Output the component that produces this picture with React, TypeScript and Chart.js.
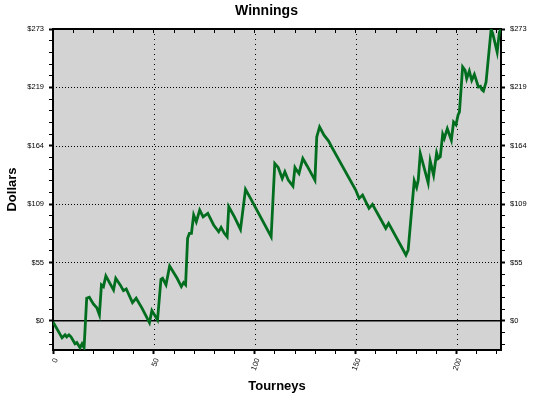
import React, { useEffect, useRef } from "react";
import { Chart, registerables } from "chart.js";

Chart.register(...registerables);

const tourneys = [
  0, 4.5, 6, 6.8, 7.9, 8.9, 10.9, 11.8, 13.4, 14.4,
  15.4, 16.7, 18, 20, 21.7, 23, 24, 25, 26.2, 28,
  30, 31.1, 33.3, 34.9, 36.3, 39.4, 41.2, 44.1, 47.8, 49,
  51.8, 53.5, 54.3, 56, 57.8, 59, 61.5, 63.6, 64.7, 65.7,
  66.7, 67.6, 68.6, 69.7, 71, 72.7, 74.4, 76.7, 79.6, 82.1,
  83.3, 84.9, 86.3, 87.1, 89.9, 92.9, 95.4, 97.9, 108.1, 109.9,
  111.6, 113.6, 114.9, 116.6, 118.9, 119.9, 120.7, 121.9, 123.8, 126,
  129.8, 130.7, 132.1, 134.3, 136.5, 138.5, 150, 151.7, 153.4, 156.6,
  158.3, 164.9, 166.3, 174.9, 176, 179, 180.2, 181, 182, 185.9,
  186.9, 188.6, 190.1, 190.9, 191.9, 193.1, 193.9, 195.4, 197.4, 198.5,
  199.7, 200.7, 201.4, 203, 204.2, 205, 206.3, 207.5, 208.8, 210.8,
  211.8, 212.5, 213.3, 214.6, 217.1, 217.9, 220.1, 221.2, 222,
];

const winnings = [
  -1, -15.9, -13.1, -15, -13.1, -15, -21.5, -20.3, -25.2, -21.5,
  -25.2, 21.2, 22.2, 15.9, 12.2, 5.6, 33.7, 32.1, 42.1, 35.8,
  29, 39.9, 33.7, 28.3, 29.9, 17.1, 21.2, 11.9, -1.6, 9.6,
  0.9, 39, 39.9, 33.7, 51.4, 47.7, 39.9, 32.1, 35.8, 33.7,
  77.3, 82, 82, 99.1, 92.8, 103.8, 97.5, 100.7, 89.8, 83.5,
  87.6, 82, 78.8, 106.9, 97.5, 85.7, 123.1, 114.7, 78.8, 147.4,
  143.7, 133.4, 139.6, 131.8, 126.2, 143.7, 141.2, 138.1, 152.1, 144.9,
  131.8, 172.3, 181.7, 173.9, 168.6, 161.5, 122.5, 114.7, 117.8, 105.4,
  109.1, 86.7, 91.3, 61.7, 66.4, 131.2, 125, 131.8, 156.8, 129.3,
  149.9, 136.5, 157.3, 152.1, 153.6, 174.8, 170.8, 180, 169.2, 186.3,
  183.7, 192.6, 195.7, 237.8, 234.7, 226.9, 234, 225.3, 230.9, 219.1,
  219.7, 216.6, 215.3, 223.7, 273, 269.3, 251.8, 270.5, 273,
];

const xMajorValues = [0, 50, 100, 150, 200];
const xTickLabels = ["0", "50", "100", "150", "200"];
const yTickLabels = ["$0", "$55", "$109", "$164", "$219", "$273"];

const X_MIN = 0;
const X_MAX = 222;
const X_MINOR_STEP = 10;
const Y_MIN = -27.3;
const Y_MAX = 273.4;
const Y_DIVS = 25;

const FONT = "'Liberation Sans', Arial, sans-serif";

export default function App() {
  const ref = useRef<HTMLCanvasElement>(null);

  useEffect(() => {
    if (!ref.current) return;
    const yStep = Y_MAX / Y_DIVS;
    const yTickValues: number[] = [];
    for (let i = -2; i <= Y_DIVS; i++) yTickValues.push(i * yStep);
    const xTickValues: number[] = [];
    for (let v = X_MIN; v <= X_MAX; v += X_MINOR_STEP) xTickValues.push(v);

    const yIsMajor = (v: number) => {
      const i = Math.round(v / yStep);
      return i >= 0 && i % 5 === 0;
    };
    const yLabel = (v: number) => {
      const i = Math.round(v / yStep);
      return i >= 0 && i % 5 === 0 ? yTickLabels[i / 5] : "";
    };
    const xIsMajor = (v: number) => xMajorValues.indexOf(Math.round(v)) >= 0;
    const xLabel = (v: number) => {
      const idx = xMajorValues.indexOf(Math.round(v));
      return idx >= 0 ? xTickLabels[idx] : "";
    };

    const bgGrid = {
      id: "bgGrid",
      beforeDraw(chart: any) {
        const { ctx, chartArea: a } = chart;
        ctx.save();
        ctx.fillStyle = "#d3d3d3";
        ctx.fillRect(a.left, a.top, a.right - a.left, a.bottom - a.top);
        ctx.restore();
      },
      beforeDatasetsDraw(chart: any) {
        const { ctx, chartArea: a, scales } = chart;
        ctx.save();
        ctx.strokeStyle = "#000";
        ctx.lineWidth = 1;
        ctx.setLineDash([1, 2]);
        for (let k = 1; k < yTickLabels.length - 1; k++) {
          const y = Math.round(scales.y.getPixelForValue(k * 5 * yStep)) + 0.5;
          ctx.beginPath();
          ctx.moveTo(a.left, y);
          ctx.lineTo(a.right, y);
          ctx.stroke();
        }
        ctx.setLineDash([1, 4]);
        for (const v of xMajorValues) {
          if (v === X_MIN) continue;
          const x = Math.round(scales.x.getPixelForValue(v)) + 0.5;
          ctx.beginPath();
          ctx.moveTo(x, a.top);
          ctx.lineTo(x, a.bottom);
          ctx.stroke();
        }
        ctx.setLineDash([]);
        ctx.lineWidth = 1.5;
        const y0 = scales.y.getPixelForValue(0);
        ctx.beginPath();
        ctx.moveTo(a.left, y0);
        ctx.lineTo(a.right, y0);
        ctx.stroke();
        ctx.restore();
      },
    };

    const tickFont = { family: FONT, size: 7.5 };
    const titleFont = { family: FONT, size: 13, weight: "bold" as const };

    const yScaleBase = (position: "left" | "right", width: number) => ({
      type: "linear" as const,
      position,
      min: Y_MIN,
      max: Y_MAX,
      afterBuildTicks: (scale: any) => {
        scale.ticks = yTickValues.map((value) => ({ value }));
      },
      afterFit: (scale: any) => {
        scale.width = width;
      },
      ticks: {
        autoSkip: false,
        font: tickFont,
        color: "#000",
        padding: 5,
        callback: (v: any) => yLabel(Number(v)),
      },
      grid: {
        drawOnChartArea: false,
        drawTicks: true,
        tickLength: 4,
        tickColor: "#000",
        tickWidth: (c: any) => (c.tick && yIsMajor(c.tick.value) ? 2 : 1),
      },
      border: { display: true, color: "#000", width: 2 },
    });

    const chart = new Chart(ref.current, {
      type: "line",
      data: {
        datasets: [
          {
            data: tourneys.map((t, i) => ({ x: t, y: winnings[i] })),
            borderColor: "#006e1e",
            borderWidth: 2.8,
            pointRadius: 0,
            tension: 0,
            fill: false,
          },
        ],
      },
      options: {
        responsive: false,
        animation: false,
        devicePixelRatio: 1,
        layout: { padding: 0 },
        plugins: {
          legend: { display: false },
          tooltip: { enabled: false },
          title: {
            display: true,
            text: "Winnings",
            color: "#000",
            font: { family: FONT, size: 14, weight: "bold" },
            padding: { top: 3, bottom: 9.2 },
          },
        },
        scales: {
          x: {
            type: "linear",
            position: "bottom",
            min: X_MIN,
            max: X_MAX,
            afterBuildTicks: (scale: any) => {
              scale.ticks = xTickValues.map((value) => ({ value }));
            },
            afterFit: (scale: any) => {
              scale.height = 51;
            },
            ticks: {
              autoSkip: false,
              minRotation: 70,
              maxRotation: 70,
              font: tickFont,
              color: "#000",
              padding: 3,
              labelOffset: 3,
              callback: (v: any) => xLabel(Number(v)),
            },
            grid: {
              drawOnChartArea: false,
              drawTicks: true,
              tickLength: 4,
              tickColor: "#000",
              tickWidth: (c: any) => (c.tick && xIsMajor(c.tick.value) ? 2 : 1),
            },
            border: { display: true, color: "#000", width: 2 },
            title: {
              display: true,
              text: "Tourneys",
              color: "#000",
              font: titleFont,
              padding: { top: 0, bottom: 7 },
            },
          },
          x2: {
            type: "linear",
            axis: "x",
            position: "top",
            min: X_MIN,
            max: X_MAX,
            afterBuildTicks: (scale: any) => {
              scale.ticks = xTickValues.map((value) => ({ value }));
            },
            afterFit: (scale: any) => {
              scale.height = 0;
            },
            ticks: { display: false, autoSkip: false },
            grid: {
              drawOnChartArea: false,
              drawTicks: true,
              tickLength: -4,
              tickColor: "#000",
            },
            border: { display: true, color: "#000", width: 2 },
          },
          y: {
            ...yScaleBase("left", 53),
            title: {
              display: true,
              text: "Dollars",
              color: "#000",
              font: titleFont,
              padding: { top: 5, bottom: 0 },
            },
          },
          y2: {
            ...yScaleBase("right", 32),
            axis: "y",
          },
        },
      } as any,
      plugins: [bgGrid],
    });

    return () => chart.destroy();
  }, []);

  return (
    <div style={{ position: "fixed", left: 0, top: 0, width: 533, height: 401 }}>
      <canvas ref={ref} width={533} height={401} style={{ display: "block" }} />
    </div>
  );
}
